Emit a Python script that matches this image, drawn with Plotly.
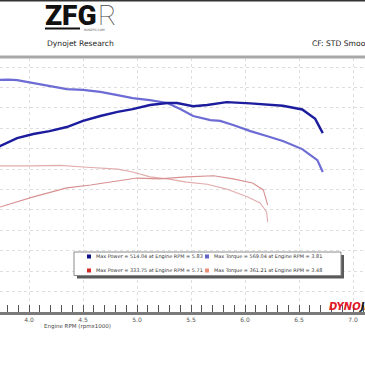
import plotly.graph_objects as go

# ---------------- data ----------------
rpm_pow_a = [3.70, 3.73, 3.89, 4.04, 4.19, 4.35, 4.50, 4.66, 4.82, 4.96, 5.12, 5.28, 5.37,
             5.52, 5.65, 5.77, 5.83, 6.05, 6.20, 6.35, 6.53, 6.65, 6.72]
pow_a = [400, 406, 426, 436, 443, 453, 468, 480, 490, 497, 507, 512, 512,
         504, 507, 512, 514.04, 511, 508, 505, 496, 473, 438]

rpm_tq_a = [3.70, 3.73, 3.81, 3.89, 4.04, 4.19, 4.35, 4.50, 4.66, 4.82, 4.96, 5.12, 5.28,
            5.40, 5.52, 5.68, 5.77, 5.89, 6.05, 6.20, 6.35, 6.53, 6.67, 6.72]
tq_a = [568, 568.5, 569.04, 568, 561, 553, 546, 544, 539, 531, 524, 519, 512,
        497, 480, 470, 468, 458, 443, 431, 419, 399, 372, 343]

rpm_pow_b = [3.70, 3.73, 4.04, 4.35, 4.57, 4.82, 5.00, 5.21, 5.46, 5.71, 5.89, 6.07, 6.17, 6.21]
pow_b = [252, 257, 282, 304, 311, 321, 328, 326, 331, 333.75, 326, 316, 299, 262]

rpm_tq_b = [3.48, 3.73, 4.04, 4.29, 4.50, 4.82, 4.96, 5.12, 5.28, 5.46, 5.65, 5.83, 6.02,
            6.14, 6.20, 6.21]
tq_b = [361.21, 358, 358, 359, 355, 350, 343, 331, 326, 318, 313, 301, 282, 267, 245, 220]

legend_rows = [
    ["Max Power = 514.04 at Engine RPM = 5.83", "Max Torque = 569.04 at Engine RPM = 3.81"],
    ["Max Power = 333.75 at Engine RPM = 5.71", "Max Torque = 361.21 at Engine RPM = 3.48"],
]
legend_colors = [["#10108a", "#6464c8"], ["#d42a2a", "#e8907a"]]

x_title = "Engine RPM (rpmx1000)"
header_left = "Dynojet Research"
header_right = "CF: STD Smoothing 5"

# ---------------- layout helpers ----------------
W, H = 365, 365
T, B = 58, 53
PH = H - T - B


def px(x):
    return x / W


def py(y):
    return (H - B - y) / PH


C_POW_A = "#1c1c9e"
C_TQ_A = "#6c6cd4"
C_POW_B = "#d89090"
C_TQ_B = "#e2acac"

fig = go.Figure()
fig.add_trace(go.Scatter(x=rpm_tq_b, y=tq_b, mode="lines", line=dict(color=C_TQ_B, width=1.1), showlegend=False))
fig.add_trace(go.Scatter(x=rpm_pow_b, y=pow_b, mode="lines", line=dict(color=C_POW_B, width=1.1), showlegend=False))
fig.add_trace(go.Scatter(x=rpm_tq_a, y=tq_a, mode="lines", line=dict(color=C_TQ_A, width=2.2), showlegend=False))
fig.add_trace(go.Scatter(x=rpm_pow_a, y=pow_a, mode="lines", line=dict(color=C_POW_A, width=2.4), showlegend=False))

x0 = 4.0 - 29 / 108
x1 = x0 + W / 108

shapes = []
# top border and header separator
shapes.append(dict(type="rect", xref="paper", yref="paper", x0=0, x1=1, y0=py(0), y1=py(1.5),
                   fillcolor="#333333", line=dict(width=0), layer="above"))
shapes.append(dict(type="rect", xref="paper", yref="paper", x0=0, x1=1, y0=py(58.5), y1=py(55.5),
                   fillcolor="#a8a8a8", line=dict(width=0), layer="above"))
# logo bar
shapes.append(dict(type="rect", xref="paper", yref="paper", x0=px(45), x1=px(80), y0=py(29.5), y1=py(27.5),
                   fillcolor="#111111", line=dict(width=0), layer="above"))
# legend box shadow and box
shapes.append(dict(type="rect", xref="paper", yref="paper", x0=px(77), x1=px(344), y0=py(278.5), y1=py(255),
                   fillcolor="#5a5a5a", line=dict(width=0), layer="above"))
shapes.append(dict(type="rect", xref="paper", yref="paper", x0=px(74), x1=px(341), y0=py(275.5), y1=py(252),
                   fillcolor="white", line=dict(color="#8a8a8a", width=1), layer="above"))

annotations = []
for r, (row, cols) in enumerate(zip(legend_rows, legend_colors)):
    yy = 256.5 + r * 14
    for c, (txt, col) in enumerate(zip(row, cols)):
        xm = 89 + c * 118
        shapes.append(dict(type="rect", xref="paper", yref="paper", x0=px(xm - 2), x1=px(xm + 2),
                           y0=py(yy + 2), y1=py(yy - 2), fillcolor=col, line=dict(width=0), layer="above"))
        annotations.append(dict(text=txt, x=px(xm + 5), y=py(yy), xref="paper", yref="paper",
                                xanchor="left", yanchor="middle", showarrow=False,
                                font=dict(family="DejaVu Sans", size=4.95, color="#333333")))

# header texts
annotations.append(dict(text="ZFG", x=px(43), y=py(15.5), xref="paper", yref="paper", xanchor="left",
                        yanchor="middle", showarrow=False,
                        font=dict(family="Roboto", size=28, color="#111111", weight=900)))
annotations.append(dict(text="R", x=px(96), y=py(15.5), xref="paper", yref="paper", xanchor="left",
                        yanchor="middle", showarrow=False,
                        font=dict(family="Roboto", size=28, color="#444444", weight=100)))
annotations.append(dict(text="RUNZFG.COM", x=px(82), y=py(30), xref="paper", yref="paper", xanchor="left",
                        yanchor="middle", showarrow=False,
                        font=dict(family="DejaVu Sans", size=3, color="#555555")))
annotations.append(dict(text=header_left, x=px(45), y=py(43), xref="paper", yref="paper", xanchor="left",
                        yanchor="middle", showarrow=False,
                        font=dict(family="DejaVu Sans", size=7.6, color="#222222")))
annotations.append(dict(text=header_right, x=px(310), y=py(43), xref="paper", yref="paper", xanchor="left",
                        yanchor="middle", showarrow=False,
                        font=dict(family="DejaVu Sans", size=7.6, color="#222222")))
annotations.append(dict(text=x_title, x=px(77), y=py(326), xref="paper", yref="paper", xanchor="center",
                        yanchor="middle", showarrow=False,
                        font=dict(family="DejaVu Sans", size=5.5, color="#444444")))
annotations.append(dict(text="<b><i><span style='color:#e0182a'>DYNO</span>JET</i></b>", x=px(327), y=py(306),
                        xref="paper", yref="paper", xanchor="left", yanchor="middle", showarrow=False,
                        font=dict(family="DejaVu Sans", size=10, color="#111111")))

fig.update_layout(
    width=W, height=H,
    margin=dict(l=0, r=0, t=T, b=B, pad=0),
    paper_bgcolor="white", plot_bgcolor="white",
    shapes=shapes, annotations=annotations,
    showlegend=False,
    xaxis=dict(range=[x0, x1], tick0=4.0, dtick=0.5, tickformat=".1f",
               showgrid=True, gridcolor="#dedede", griddash="dot", gridwidth=1,
               zeroline=False, showline=True, linecolor="#7a7a7a", linewidth=3,
               ticks="inside", ticklen=7, tickcolor="#555555", tickwidth=1,
               minor=dict(dtick=0.1, ticks="inside", ticklen=7, tickcolor="#555555", showgrid=False),
               tickfont=dict(family="DejaVu Sans", size=6, color="#555555"),
               fixedrange=True),
    yaxis=dict(range=[0, PH / 0.4083], dtick=50, showgrid=True, gridcolor="#dedede", griddash="dot",
               gridwidth=1, zeroline=False, showticklabels=False, ticks="", showline=False,
               fixedrange=True),
)

fig.write_html("out.html")
